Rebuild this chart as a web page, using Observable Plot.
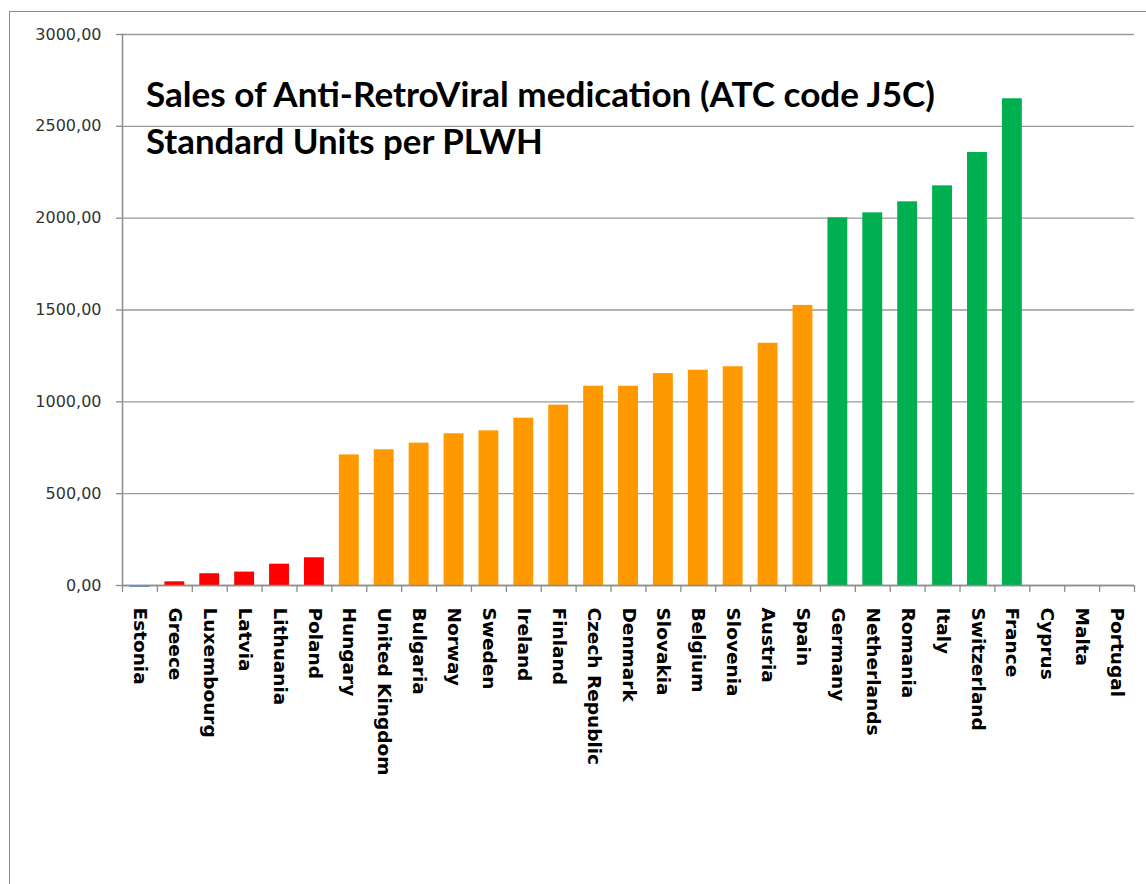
<!DOCTYPE html>
<html>
<head>
<meta charset="utf-8">
<script src="https://cdn.jsdelivr.net/npm/d3@7"></script>
<script src="https://cdn.jsdelivr.net/npm/@observablehq/plot@0.6"></script>
<style>
  html, body { margin: 0; padding: 0; background: #fff; overflow: hidden; }
  #wrap { position: relative; width: 1146px; height: 884px; background: #fff; }
  #border { position: absolute; left: 9px; top: 11px; width: 1200px; height: 900px;
            border-left: 1.5px solid #8c8c8c; border-top: 1.5px solid #8c8c8c; }
  #chart { position: absolute; left: 0; top: 0; }
  #title { position: absolute; left: 0; top: 0; pointer-events: none; }
</style>
</head>
<body>
<div id="wrap">
  <div id="border"></div>
  <div id="chart"></div>
  <svg id="title" width="1146" height="200">
    <text id="t1" x="146" y="107" font-family="Lato" font-weight="700" font-size="34" fill="#000">Sales of Anti-RetroViral medication (ATC code J5C)</text>
    <text id="t2" x="146" y="154" font-family="Lato" font-weight="700" font-size="34" fill="#000">Standard Units per PLWH</text>
  </svg>
</div>
<script>
const countries = ["Estonia","Greece","Luxembourg","Latvia","Lithuania","Poland","Hungary","United Kingdom","Bulgaria","Norway","Sweden","Ireland","Finland","Czech Republic","Denmark","Slovakia","Belgium","Slovenia","Austria","Spain","Germany","Netherlands","Romania","Italy","Switzerland","France","Cyprus","Malta","Portugal"];
const values = [-10, 20, 64, 73, 116, 151, 711, 739, 775, 826, 842, 911, 982, 1085, 1085, 1154, 1172, 1191, 1319, 1525, 2002, 2029, 2089, 2176, 2358, 2650, null, null, null];
const tiers = ["default","low","low","low","low","low","mid","mid","mid","mid","mid","mid","mid","mid","mid","mid","mid","mid","mid","mid","high","high","high","high","high","high","none","none","none"];
const tierNames = ["default","low","mid","high","none"];
const tierColors = ["#4F81BD","#FF0000","#FF9900","#00B050","#ffffff"];
const yTicks = [0, 500, 1000, 1500, 2000, 2500, 3000];

const data = countries.map((c, i) => ({country: c, value: values[i], tier: tiers[i]}));

const W = 1146, H = 884, mL = 122, mR = 12, mT = 34, mB = 299;
const step = (W - mL - mR) / countries.length;
const fmt = d => d3.format(".2f")(d).replace(".", ",");

const chart = Plot.plot({
  width: W, height: H,
  marginLeft: mL, marginRight: mR, marginTop: mT, marginBottom: mB,
  style: {background: "transparent", overflow: "visible"},
  x: {domain: countries, padding: 0, round: false, label: null},
  y: {domain: [0, 3000], label: null},
  color: {domain: tierNames, range: tierColors},
  marks: [
    Plot.gridY(yTicks, {stroke: "#9a9a9a", strokeOpacity: 1, strokeWidth: 1.4}),
    Plot.barY(data.filter(d => d.value != null), {x: "country", y: "value", fill: "tier", insetLeft: 7.5, insetRight: 7.5}),
    Plot.frame({anchor: "left", stroke: "#8c8c8c", strokeWidth: 1.5}),
    Plot.ruleY([0], {stroke: "#8c8c8c", strokeWidth: 1.5}),
    Plot.axisY(yTicks, {tickSize: 6, tickPadding: 15, tickFormat: fmt, fontSize: 16, fontFamily: "DejaVu Sans", fill: "#333", stroke: "#8c8c8c", strokeWidth: 1.3, label: null}),
    Plot.axisX({tickSize: 7, tickFormat: () => "", dx: -step / 2, stroke: "#8c8c8c", strokeWidth: 1.3, label: null}),
    Plot.axisX([countries[countries.length - 1]], {tickSize: 7, tickFormat: () => "", dx: step / 2, stroke: "#8c8c8c", strokeWidth: 1.3, label: null}),
    Plot.axisX({tickSize: 0, tickPadding: 22, tickRotate: 90, fontSize: 18.5, fontWeight: "bold", fontFamily: "DejaVu Sans", fill: "#000", label: null})
  ]
});
document.getElementById("chart").appendChild(chart);

function fit(id, target) {
  const el = document.getElementById(id);
  const len = el.getComputedTextLength();
  const fs = parseFloat(el.getAttribute("font-size"));
  el.setAttribute("font-size", (fs * target / len).toFixed(2));
}
fit("t1", 789);
fit("t2", 397);
</script>
</body>
</html>
